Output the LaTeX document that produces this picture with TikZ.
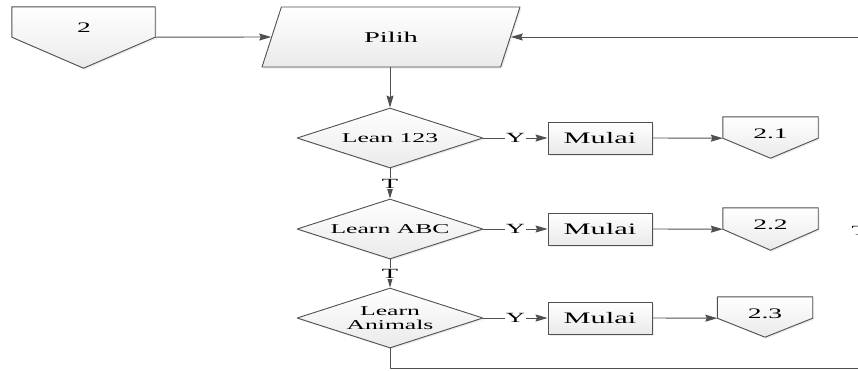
\documentclass[tikz,border=0pt]{standalone}
\usepackage{fontspec}
\setmainfont{Liberation Serif}[FakeStretch=1.9]
\usetikzlibrary{shapes.geometric,arrows.meta,positioning,backgrounds,calc,shadows}

\begin{document}
\begin{tikzpicture}[x=1pt,y=1pt,line join=round,
  flow/.style={draw=linec,line width=0.9pt,top color=white,bottom color=boxc,
    drop shadow={opacity=0.15,shadow xshift=1.5pt,shadow yshift=-1.5pt}},
  ask/.style={flow,diamond,aspect=3.1,inner sep=0pt,minimum width=186pt,minimum height=60pt,
    align=center,font=\fontsize{13.5}{14}\selectfont},
  runbox/.style={flow,rectangle,inner sep=0pt,minimum width=104pt,minimum height=32pt,
    font=\fontsize{16}{18}\selectfont},
  pagebody/.style={rectangle,inner sep=0pt},
  pagetext/.style={inner sep=0pt,font=\fontsize{14.5}{16}\selectfont},
  link/.style={draw=linec,line width=0.9pt,-{Stealth[length=12pt,width=7pt,inset=1.5pt]}},
  lbl/.style={fill=white,inner sep=1pt,font=\fontsize{14}{16}\selectfont}]
\definecolor{linec}{RGB}{80,80,80}\definecolor{boxc}{RGB}{234,234,234}
\useasboundingbox (0,0) rectangle (858,-370);
% entry connector and the input box
\node[pagebody,minimum width=143pt,minimum height=30pt] (pg2) at (83.5,-22) {};
\node[pagetext] (n2) at (84,-28) {2};
\node[flow,trapezium,trapezium left angle=41.4,trapezium right angle=138.6,
  trapezium stretches body=true,minimum width=258pt,minimum height=60pt,
  font=\fontsize{15}{16}\selectfont] (pilih) at (391,-37) {Pilih};
% one row per choice: question, Y -> Mulai -> sub page
\foreach \i/\y/\q/\px in {1/138/{Lean 123}/770.5, 2/229/{Learn ABC}/770.5, 3/318/{Learn\\Animals}/765}{
  \node[ask] (d\i) at (390,-\y) {\q};
  \node[runbox] (m\i) at (600,-\y) {Mulai};
  \node[pagebody,minimum width=95pt,minimum height=21pt] (p\i) at (\px,-\y+10.5) {};
  \node[pagetext] (n\i) at (\px,-\y+4.5) {2.\i};
  \draw[link] (d\i.east) -- node[lbl]{Y} (m\i.west);
  \draw[link] (m\i.east) -- (p\i.south west);}
% pentagon outlines behind the page numbers
\begin{scope}[on background layer]
\foreach \p/\d in {pg2/31, p1/20, p2/21, p3/19}{
  \draw[flow] (\p.north west) -- (\p.north east) -- (\p.south east)
    -- ($(\p.south)+(0,-\d)$) -- (\p.south west) -- cycle;}
\end{scope}
\draw[link] (pg2.south east) -- (pilih.west);
\draw[link] (pilih.south -| d1.north) -- (d1.north);
\draw[link] (d1.south) -- node[lbl]{T} (d2.north);
\draw[link] (d2.south) -- node[lbl]{T} (d3.north);
% back to the top
\coordinate (back) at (858.6,-368);
\draw[link] (d3.south) |- (back) |- (pilih.east);
\node[anchor=west,font=\fontsize{14}{16}\selectfont] (tcut) at (848,-231) {T};
\end{tikzpicture}
\end{document}
